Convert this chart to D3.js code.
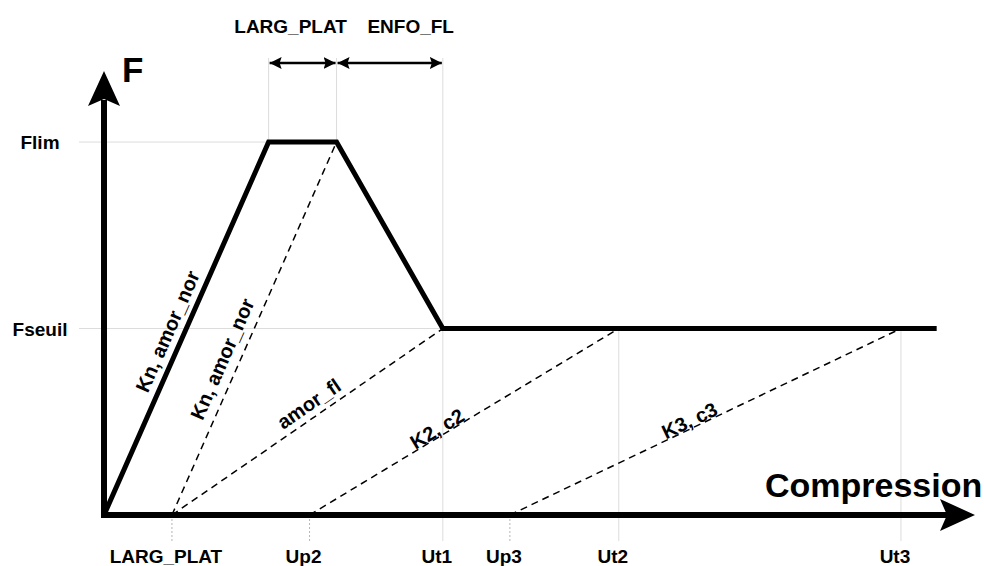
<!DOCTYPE html>
<html>
<head>
<meta charset="utf-8">
<script src="https://cdn.jsdelivr.net/npm/d3@7"></script>
<style>
  body { margin: 0; background: #fff; }
  text { font-family: "Liberation Sans", Arial, sans-serif; font-weight: bold; fill: #000; }
</style>
</head>
<body>
<div id="svg"></div>
<script>
// abscissas (compression units) and ordinates (force units)
var xNames = ["LARG_PLAT", "Up2", "Ut1", "Up3", "Ut2", "Ut3"];
var xValues = [7.8, 23.6, 38.9, 46.6, 59.1, 91.5];
var yNames = ["Flim", "Fseuil"];
var yValues = [84, 42];

// loading curve
var curveX = [0, 18.9, 26.7, 38.9, 95.6];
var curveY = [0, 84, 84, 42, 42];

// labelled straight lines (first one is the loading branch)
var lineLabels = ["Kn, amor_nor", "Kn, amor_nor", "amor_fl", "K2, c2", "K3, c3"];
var lineX0 = [0, 7.8, 7.8, 23.6, 46.6];
var lineY0 = [0, 0, 0, 0, 0];
var lineX1 = [18.9, 26.7, 38.9, 59.1, 91.5];
var lineY1 = [84, 84, 42, 42, 42];

// widths shown on top
var spanNames = ["LARG_PLAT", "ENFO_FL"];
var spanStart = [18.9, 26.7];
var spanEnd = [26.7, 38.9];

var w = 984, h = 566;
var svg = d3.select("#svg").append("svg")
	.attr("width", w)
	.attr("height", h);

var x = d3.scaleLinear().domain([0, 100]).range([104, 975]),
    y = d3.scaleLinear().domain([0, 100]).range([515, 71]);

var grid = "#dcdcdc";

svg.append("defs").append("marker")
	.attr("id", "head")
	.attr("markerUnits", "userSpaceOnUse")
	.attr("markerWidth", 14).attr("markerHeight", 14)
	.attr("viewBox", "0 -7 14 14")
	.attr("refX", 12).attr("refY", 0)
	.attr("orient", "auto-start-reverse")
	.append("path")
	.attr("d", "M0,-6L12,0L0,6L2,0Z")
	.attr("fill", "#000");

// horizontal guides
svg.selectAll(".hgrid")
	.data(yValues)
	.enter().append("line")
	.attr("class", "hgrid")
	.attr("x1", 79)
	.attr("x2", function(d, i) { return i == 0 ? x(curveX[1]) : x(curveX[3]); })
	.attr("y1", function(d) { return y(d); })
	.attr("y2", function(d) { return y(d); })
	.attr("stroke", grid).attr("stroke-width", 1);

// vertical guides from the top spans
var topGuides = [spanStart[0], spanStart[1]];
svg.selectAll(".tgrid")
	.data(topGuides)
	.enter().append("line")
	.attr("class", "tgrid")
	.attr("x1", function(d) { return x(d); })
	.attr("x2", function(d) { return x(d); })
	.attr("y1", 58)
	.attr("y2", y(yValues[0]))
	.attr("stroke", grid).attr("stroke-width", 1);

// vertical guides at the Ut points
svg.selectAll(".ugrid")
	.data(xNames.map(function(n, i) { return {name: n, v: xValues[i]}; }))
	.enter().append("line")
	.attr("class", "ugrid")
	.attr("x1", function(d) { return x(d.v); })
	.attr("x2", function(d) { return x(d.v); })
	.attr("y1", function(d) {
		if (d.name == "Ut1") return 58;
		if (d.name.indexOf("Ut") == 0) return y(yValues[1]);
		return 519;
	})
	.attr("y2", 541)
	.attr("stroke", function(d) { return d.name.indexOf("Ut") == 0 ? grid : "#b5b5b5"; })
	.attr("stroke-dasharray", function(d) { return d.name.indexOf("Ut") == 0 ? null : "2,2"; })
	.attr("stroke-width", 1);

// dashed unloading / reloading lines
var segs = lineLabels.map(function(l, i) {
	return {label: l, x0: lineX0[i], y0: lineY0[i], x1: lineX1[i], y1: lineY1[i], solid: i == 0};
});
svg.selectAll(".seg")
	.data(segs.filter(function(d) { return !d.solid; }))
	.enter().append("line")
	.attr("class", "seg")
	.attr("x1", function(d) { return x(d.x0); })
	.attr("y1", function(d) { return y(d.y0); })
	.attr("x2", function(d) { return x(d.x1); })
	.attr("y2", function(d) { return y(d.y1); })
	.attr("stroke", "#000")
	.attr("stroke-width", 1.5)
	.attr("stroke-dasharray", "7,5");

// main curve
var line = d3.line()
	.x(function(d) { return x(d[0]); })
	.y(function(d) { return y(d[1]); });
svg.append("path")
	.attr("d", line(curveX.map(function(v, i) { return [v, curveY[i]]; })))
	.attr("fill", "none")
	.attr("stroke", "#000")
	.attr("stroke-width", 5)
	.attr("stroke-linejoin", "miter");

// axes
svg.append("line")
	.attr("x1", x(0)).attr("y1", y(0) + 3)
	.attr("x2", x(0)).attr("y2", 100)
	.attr("stroke", "#000").attr("stroke-width", 6);
svg.append("path")
	.attr("d", "M" + x(0) + "," + y(100) + "L" + (x(0) + 16) + "," + (y(100) + 35) + "L" + x(0) + "," + (y(100) + 28) + "L" + (x(0) - 16) + "," + (y(100) + 35) + "Z")
	.attr("fill", "#000");
svg.append("line")
	.attr("x1", x(0) - 3).attr("y1", y(0))
	.attr("x2", 948).attr("y2", y(0))
	.attr("stroke", "#000").attr("stroke-width", 6);
svg.append("path")
	.attr("d", "M" + x(100) + "," + y(0) + "L" + (x(100) - 35) + "," + (y(0) - 16) + "L" + (x(100) - 28) + "," + y(0) + "L" + (x(100) - 35) + "," + (y(0) + 16) + "Z")
	.attr("fill", "#000");

svg.append("text")
	.attr("x", 122).attr("y", 82)
	.style("font-size", "35px")
	.text("F");
svg.append("text")
	.attr("x", 765).attr("y", 497)
	.style("font-size", "34px")
	.text("Compression");

// tick labels
svg.selectAll(".ylab")
	.data(yNames)
	.enter().append("text")
	.attr("class", "ylab")
	.attr("x", 40)
	.attr("y", function(d, i) { return y(yValues[i]) + 7; })
	.attr("text-anchor", "middle")
	.style("font-size", "19px")
	.text(function(d) { return d; });

svg.selectAll(".xlab")
	.data(xNames)
	.enter().append("text")
	.attr("class", "xlab")
	.attr("x", function(d, i) { return x(xValues[i]) - 6; })
	.attr("y", 563)
	.attr("text-anchor", "middle")
	.style("font-size", "19px")
	.text(function(d) { return d; });

// top width arrows
svg.selectAll(".span")
	.data(spanNames)
	.enter().append("line")
	.attr("class", "span")
	.attr("x1", function(d, i) { return x(spanStart[i]) + 1; })
	.attr("x2", function(d, i) { return x(spanEnd[i]) - 1; })
	.attr("y1", 63).attr("y2", 63)
	.attr("stroke", "#000").attr("stroke-width", 2.5)
	.attr("marker-start", "url(#head)")
	.attr("marker-end", "url(#head)");

var spanShift = [-12, 21];
svg.selectAll(".spanlab")
	.data(spanNames)
	.enter().append("text")
	.attr("class", "spanlab")
	.attr("x", function(d, i) { return (x(spanStart[i]) + x(spanEnd[i])) / 2 + spanShift[i]; })
	.attr("y", 33)
	.attr("text-anchor", "middle")
	.style("font-size", "19px")
	.text(function(d) { return d; });

// labels along the lines
var labelT = [0.475, 0.40, 0.535, 0.426, 0.468];
var labelOff = [-9, -10, -7, -1, -1];
svg.selectAll(".seglab")
	.data(segs)
	.enter().append("text")
	.attr("class", "seglab")
	.attr("transform", function(d, i) {
		var ax = x(d.x0), ay = y(d.y0), bx = x(d.x1), by = y(d.y1);
		var a = Math.atan2(by - ay, bx - ax) * 180 / Math.PI;
		var px = ax + labelT[i] * (bx - ax), py = ay + labelT[i] * (by - ay);
		return "translate(" + px + "," + py + ") rotate(" + a + ")";
	})
	.attr("y", function(d, i) { return labelOff[i]; })
	.attr("text-anchor", "middle")
	.style("font-size", "20px")
	.text(function(d) { return d.label; });
</script>
</body>
</html>
